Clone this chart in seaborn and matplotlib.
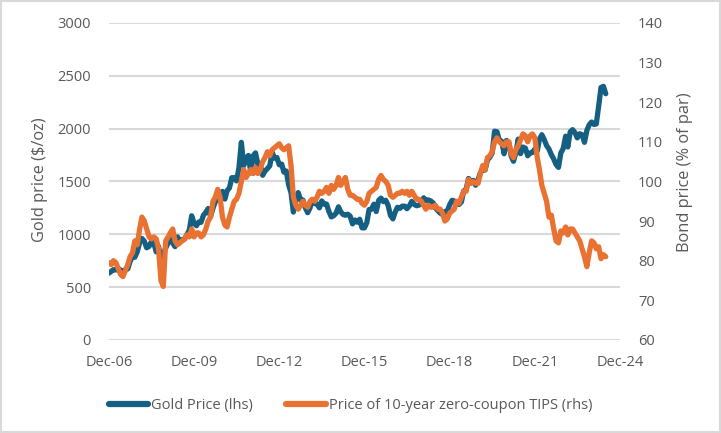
"""
Gold price vs price of 10-year zero-coupon TIPS, Dec-06 to mid-2024
"""

import pandas as pd
import matplotlib
matplotlib.use("Agg")
import matplotlib.pyplot as plt
from matplotlib.lines import Line2D
from matplotlib.patches import Rectangle
import seaborn as sns

# monthly gold price, $/oz (Dec-06 .. Jun-24)
gold_price = [
    632,
    650, 665, 662, 678, 660, 650, 665, 672, 743, 789, 783, 834,            # 2007
    923, 960, 934, 872, 885, 930, 918, 833, 884, 760, 815, 870,            # 2008
    919, 952, 916, 883, 975, 934, 949, 955, 996, 1040, 1175, 1104,         # 2009
    1081, 1116, 1113, 1180, 1207, 1244, 1169, 1246, 1307, 1346, 1386, 1405,  # 2010
    1333, 1411, 1439, 1535, 1536, 1505, 1628, 1870, 1650, 1722, 1746, 1580,  # 2011
    1744, 1770, 1662, 1651, 1558, 1598, 1622, 1648, 1776, 1720, 1726, 1657,  # 2012
    1664, 1588, 1598, 1467, 1394, 1210, 1314, 1394, 1327, 1324, 1253, 1204,  # 2013
    1251, 1326, 1291, 1288, 1250, 1315, 1285, 1285, 1216, 1164, 1175, 1199,  # 2014
    1260, 1214, 1187, 1180, 1190, 1172, 1098, 1135, 1114, 1142, 1061, 1060,  # 2015
    1111, 1234, 1237, 1285, 1215, 1320, 1342, 1309, 1322, 1272, 1178, 1146,  # 2016
    1212, 1255, 1245, 1266, 1266, 1242, 1269, 1311, 1283, 1270, 1275, 1291,  # 2017
    1345, 1318, 1325, 1316, 1298, 1250, 1224, 1201, 1187, 1215, 1217, 1279,  # 2018
    1321, 1316, 1292, 1282, 1305, 1409, 1427, 1528, 1485, 1510, 1464, 1515,  # 2019
    1582, 1610, 1608, 1702, 1730, 1768, 1975, 1970, 1887, 1880, 1762, 1888,  # 2020
    1863, 1743, 1691, 1768, 1900, 1763, 1825, 1815, 1743, 1769, 1774, 1806,  # 2021
    1788, 1900, 1942, 1897, 1839, 1807, 1754, 1712, 1660, 1633, 1769, 1812,  # 2022
    1928, 1826, 1969, 1990, 1962, 1912, 1951, 1942, 1870, 1983, 2036, 2062,  # 2023
    2039, 2044, 2214, 2390, 2400, 2330,                                     # 2024
]

# monthly price of 10-year zero-coupon TIPS, % of par
tips_price = [
    79.5,
    79, 80, 79.5, 78, 76.5, 76, 77.5, 79, 81, 82, 85, 84,                  # 2007
    88, 91, 90, 88, 86, 85.5, 86, 85.5, 83, 75, 73.5, 85,                  # 2008
    86, 87, 88, 85, 84, 84.5, 85, 85.5, 86.5, 86, 88, 86,                  # 2009
    87, 87, 86, 86.5, 88, 90, 91, 95, 96, 98, 96, 91,                      # 2010
    89, 88.5, 91, 93, 95, 95.5, 97, 100, 103, 101, 102, 103,               # 2011
    102, 103.5, 102, 103, 105, 106, 107.5, 106.5, 108, 108.5, 109, 109.5,  # 2012
    108.5, 108, 108.5, 109, 104, 96, 94, 93, 94, 95, 94, 93.5,             # 2013
    95, 95.5, 95, 96, 97.5, 97, 97.5, 98.5, 97, 99, 98, 99,                # 2014
    101, 99, 100, 101, 98, 96.5, 96.5, 96, 95.5, 95.5, 94.5, 94,           # 2015
    95, 97, 97.5, 98, 98.5, 100.5, 101.5, 100.5, 100, 99, 96.5, 96,        # 2016
    96.5, 97, 97, 97.5, 97, 97.5, 96.5, 97.5, 96.5, 95.5, 95.5, 95,        # 2017
    94, 93, 94, 93.5, 93.5, 94, 93, 93, 92, 90, 90.5, 92,                  # 2018
    92.5, 93, 95, 94.5, 96, 97.5, 97.5, 100.5, 99.5, 100, 99.5, 99.5,      # 2019
    102, 104, 103, 106, 106.5, 107.5, 110, 111, 110, 109.5, 109, 110,      # 2020
    110, 107, 106, 108, 109, 110.5, 112, 111.5, 110, 111.5, 112, 111,      # 2021
    106, 103, 99, 97, 95, 91, 91.5, 88, 85, 84.5, 87.5, 87,                # 2022
    88.5, 86.5, 88, 88, 87, 86, 85, 83, 81, 78.5, 82, 85,                  # 2023
    84.5, 83, 83.5, 80.5, 81.5, 81,                                        # 2024
]

dates = pd.date_range("2006-12-31", periods=len(gold_price), freq="ME")

gold_ticks = [0, 500, 1000, 1500, 2000, 2500, 3000]
bond_ticks = [60, 70, 80, 90, 100, 110, 120, 130, 140]
x_ticks = pd.to_datetime(["2006-12-31", "2009-12-31", "2012-12-31",
                          "2015-12-31", "2018-12-31", "2021-12-31", "2024-12-31"])

BLUE = "#156082"
ORANGE = "#E97132"
GREY = "#595959"
GRID = "#d9d9d9"

sns.set_theme(style="white")
plt.rcParams["font.family"] = ["Open Sans", "DejaVu Sans"]

fig = plt.figure(figsize=(7.21, 4.33), dpi=100)
ax = fig.add_axes([0.151, 0.215, 0.709, 0.732])
ax2 = ax.twinx()

sns.lineplot(x=dates, y=gold_price, ax=ax, color=BLUE, lw=3.8, legend=False)
sns.lineplot(x=dates, y=tips_price, ax=ax2, color=ORANGE, lw=3.8, legend=False)

ax.set_xlim(x_ticks[0], x_ticks[-1])
ax.set_ylim(gold_ticks[0], gold_ticks[-1])
ax2.set_ylim(bond_ticks[0], bond_ticks[-1])
ax.set_yticks(gold_ticks)
ax2.set_yticks(bond_ticks)
ax.set_xticks(x_ticks)
ax.set_xticklabels([d.strftime("%b-%y") for d in x_ticks])

ax.yaxis.grid(True, color=GRID, lw=1.5)
ax.set_axisbelow(True)
for a in (ax, ax2):
    for s in a.spines.values():
        s.set_visible(False)
    a.tick_params(length=0, labelsize=10.5, labelcolor=GREY)
ax.tick_params(axis="y", pad=13)
ax2.tick_params(axis="y", pad=13)
ax.tick_params(axis="x", pad=11)

ax.set_xlabel("")
ax.set_ylabel("Gold price ($/oz)", color=GREY, fontsize=11.8)
ax2.set_ylabel("Bond price (% of par)", color=GREY, fontsize=11.8)
ax.yaxis.set_label_coords(-0.119, 0.505)
ax2.yaxis.set_label_coords(1.112, 0.53)

handles = [Line2D([], [], color=BLUE, lw=4.5, solid_capstyle="round"),
           Line2D([], [], color=ORANGE, lw=4.5, solid_capstyle="round")]
leg = fig.legend(handles, ["Gold Price (lhs)", "Price of 10-year zero-coupon TIPS (rhs)"],
                 loc="center", bbox_to_anchor=(0.486, 0.064), ncol=2, frameon=False,
                 handlelength=2.7, handletextpad=0.2, columnspacing=2.3, fontsize=10.5)
for t in leg.get_texts():
    t.set_color(GREY)

fig.add_artist(Rectangle((0.002, 0.003), 0.996, 0.994, transform=fig.transFigure,
                         fill=False, edgecolor=GRID, lw=1.5))

plt.savefig("out.png", dpi=100)
plt.close()
